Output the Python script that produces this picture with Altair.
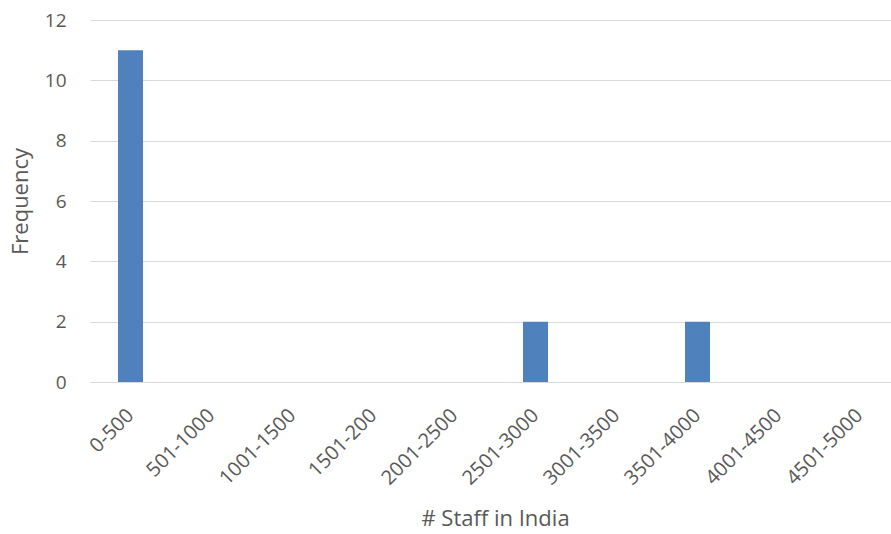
import altair as alt
import pandas as pd

categories = ["0-500", "501-1000", "1001-1500", "1501-200", "2001-2500",
              "2501-3000", "3001-3500", "3501-4000", "4001-4500", "4501-5000"]
frequency = [11, 0, 0, 0, 0, 2, 0, 2, 0, 0]

df = pd.DataFrame({"range": categories, "freq": frequency})

FONT = "Open Sans"
GRAY = "#595959"

chart = alt.Chart(df).mark_bar(color="#4F81BD", size=25).encode(
    x=alt.X("range:N", sort=categories, title="# Staff in India",
            scale=alt.Scale(paddingInner=0, paddingOuter=0, range=[0, 810]),
            axis=alt.Axis(labelAngle=-45, labelAlign="right", labelBaseline="middle",
                          labelPadding=30, ticks=False, domain=True, domainColor="#D9D9D9",
                          labelFont=FONT, labelFontSize=20, labelColor=GRAY,
                          titleFont=FONT, titleFontSize=22, titleColor=GRAY,
                          titleFontWeight="normal", titlePadding=20)),
    y=alt.Y("freq:Q", title="Frequency",
            scale=alt.Scale(domain=[0, 12]),
            axis=alt.Axis(values=[0, 2, 4, 6, 8, 10, 12], ticks=False, domain=False,
                          gridColor="#D9D9D9", gridWidth=1,
                          labelFont=FONT, labelFontSize=19, labelColor=GRAY, labelPadding=24,
                          titleFont=FONT, titleFontSize=22, titleColor=GRAY,
                          titleFontWeight="normal", titlePadding=12)),
).properties(
    width=801, height=362,
    padding={"left": 90, "top": 20, "right": 0, "bottom": 152},
    autosize=alt.AutoSizeParams(type="none"),
    background="white",
).configure_view(stroke=None)

chart.save("out.html", embed_options={"renderer": "svg", "actions": False})
